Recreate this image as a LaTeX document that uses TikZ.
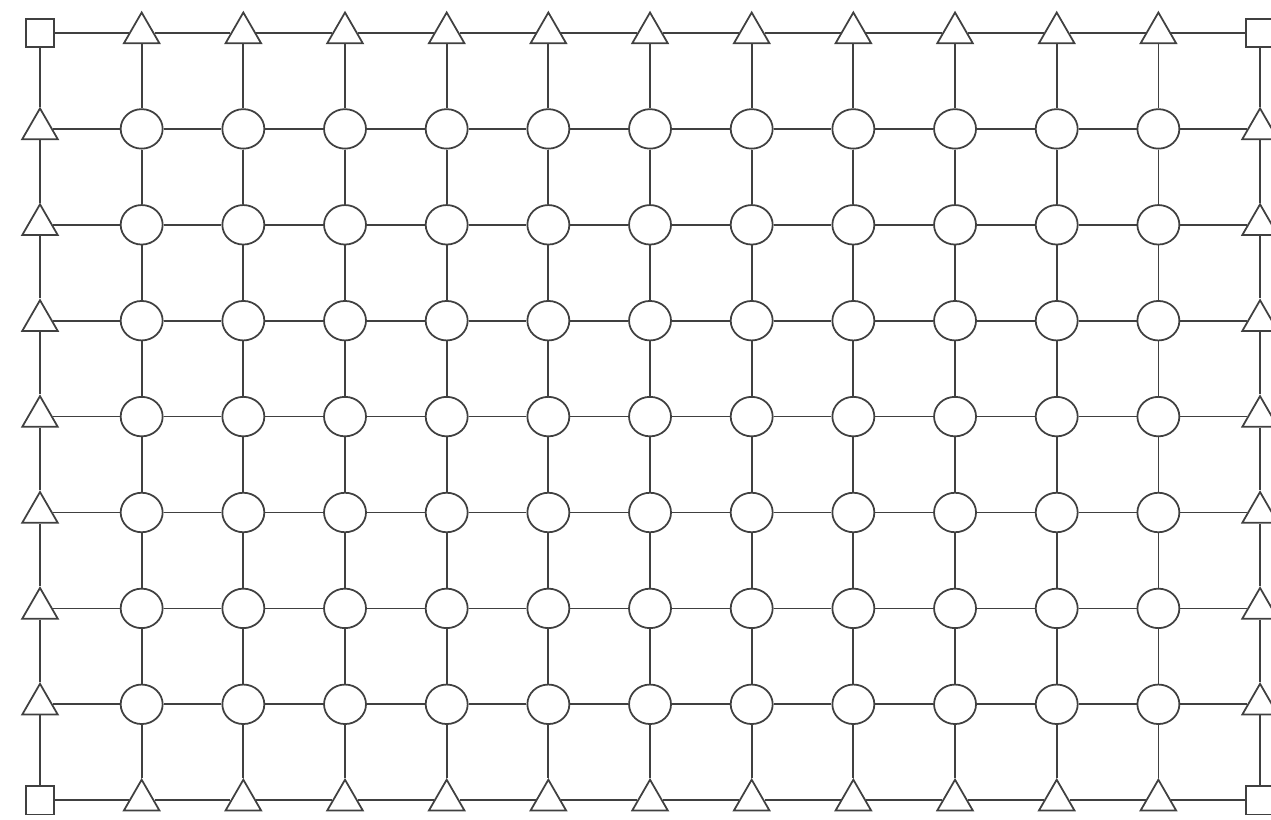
\documentclass[tikz,border=0pt]{standalone}
\usetikzlibrary{shapes.geometric}

\begin{document}
\begin{tikzpicture}[x=0.02cm, y=-0.02cm, line width=1pt, color=black!75,
	sq/.style={draw, rectangle, minimum size=0.57cm, inner sep=0pt, fill=white},
	tri/.style={draw, regular polygon, regular polygon sides=3, minimum size=0.82cm, inner sep=0pt, fill=white},
	ell/.style={draw, ellipse, minimum width=0.84cm, minimum height=0.79cm, inner sep=0pt, fill=white}]
	\useasboundingbox (0,0) rectangle (1271,820);
	\foreach \i/\j in {0/0, 12/0, 0/8, 12/8} {\node[sq] (n-\i-\j) at ({40+101.67*\i},{33+95.9*\j}) {};}
	\foreach \i in {1,...,11} {\node[tri] (n-\i-0) at ({40+101.67*\i},33) {}; \node[tri] (n-\i-8) at ({40+101.67*\i},{33+95.9*8}) {};}
	\foreach \j in {1,...,7} {\node[tri] (n-0-\j) at (40,{33+95.9*\j}) {}; \node[tri] (n-12-\j) at ({40+101.67*12},{33+95.9*\j}) {};}
	\foreach \i in {1,...,11} {\foreach \j in {1,...,7} {\node[ell] (n-\i-\j) at ({40+101.67*\i},{33+95.9*\j}) {};}}
	\foreach \i [evaluate=\i as \k using int(\i+1)] in {0,...,11} {\foreach \j in {0,...,8} {\draw (n-\i-\j) -- (n-\k-\j);}}
	\foreach \j [evaluate=\j as \k using int(\j+1)] in {0,...,7} {\foreach \i in {0,...,12} {\draw (n-\i-\j) -- (n-\i-\k);}}
	
\end{tikzpicture}
\end{document}
